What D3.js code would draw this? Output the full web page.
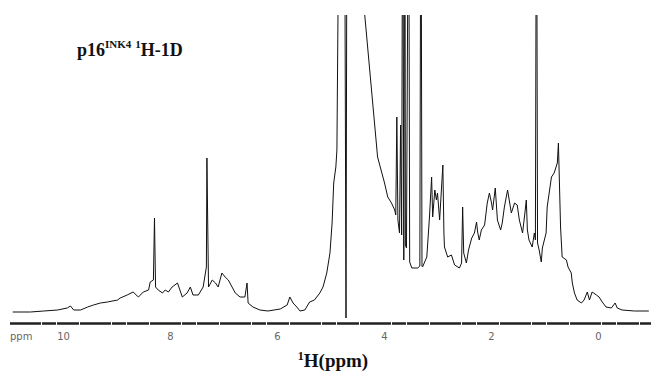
<!DOCTYPE html>
<html>
<head>
<meta charset="utf-8">
<script src="https://cdn.jsdelivr.net/npm/d3@7"></script>
<style>
  body { margin: 0; background: #fff; }
  svg { display: block; }
  .spectrum { fill: none; stroke: #111; stroke-width: 1; }
  .axis-x .domain { stroke: #222; stroke-width: 2.6; stroke-dasharray: 31,1,14,1,22,1; }
  .axis-x text { font-family: "DejaVu Sans", sans-serif; font-size: 10px; fill: #666; }
  .title, .xlabel { font-family: "Liberation Serif", "Times New Roman", serif; font-weight: bold; fill: #111; }
</style>
</head>
<body>
<div id="chart"></div>
<script>
// chemical shift (ppm), left to right
const ppm = [
  10.94, 10.61, 10.36, 10.10, 9.92, 9.86, 9.80, 9.67, 9.54, 9.43, 9.30, 9.17, 8.98, 8.93,
  8.80, 8.69, 8.59, 8.50, 8.40, 8.37, 8.31, 8.29, 8.27, 8.22, 8.14, 8.09, 8.03, 7.96,
  7.86, 7.77, 7.68, 7.62, 7.57, 7.47, 7.38, 7.32, 7.31, 7.28, 7.21, 7.15, 7.10, 7.03,
  6.97, 6.91, 6.84, 6.78, 6.69, 6.60, 6.56, 6.54, 6.45, 6.32, 6.17, 5.94, 5.81, 5.76,
  5.70, 5.63, 5.57, 5.48, 5.39, 5.30, 5.20, 5.14, 5.07, 5.01, 4.97, 4.94, 4.90, 4.88,
  4.83, 4.74, 4.71, 4.69, 4.45, 4.36, 4.12, 4.04, 3.99, 3.93, 3.86, 3.80, 3.78, 3.76,
  3.74, 3.71, 3.69, 3.67, 3.65, 3.63, 3.61, 3.60, 3.58, 3.54, 3.52, 3.48, 3.37, 3.33,
  3.31, 3.29, 3.28, 3.20, 3.15, 3.11, 3.09, 3.05, 3.02, 3.00, 2.96, 2.90, 2.88, 2.87,
  2.81, 2.74, 2.68, 2.59, 2.55, 2.53, 2.51, 2.46, 2.42, 2.36, 2.31, 2.27, 2.25, 2.22,
  2.18, 2.12, 2.07, 2.03, 1.99, 1.97, 1.92, 1.88, 1.82, 1.79, 1.75, 1.69, 1.62, 1.56,
  1.51, 1.47, 1.41, 1.36, 1.34, 1.32, 1.29, 1.23, 1.19, 1.17, 1.15, 1.13, 1.10, 1.06,
  1.04, 0.97, 0.95, 0.87, 0.82, 0.76, 0.74, 0.70, 0.67, 0.59, 0.56, 0.50, 0.48, 0.44,
  0.39, 0.31, 0.26, 0.20, 0.16, 0.11, 0.03, -0.02, -0.08, -0.15, -0.25, -0.32, -0.36,
  -0.45, -0.68, -0.95
];

// intensity (arbitrary units, plot top = 297); off-scale peaks are clipped
const intensity = [
  0, 0, 1, 2, 4, 6, 2, 2, 5, 7, 9, 10, 12, 14,
  17, 20, 15, 20, 22, 30, 32, 94, 25, 22, 19, 22, 20, 25,
  29, 15, 19, 25, 17, 17, 25, 45, 154, 25, 32, 29, 25, 39,
  35, 32, 25, 19, 15, 15, 29, 9, 5, 2, 1, 3, 7, 15,
  9, 5, 1, 2, 10, 12, 19, 25, 39, 59, 89, 129, 145, 162,
  500, 500, -6, 500, 500, 297, 155, 139, 129, 115, 109, 102, 97, 195,
  92, 79, 187, 77, 500, 52, 500, 67, 64, 500, 50, 44, 44, 46,
  500, 46, 45, 55, 95, 135, 95, 122, 112, 119, 92, 147, 79, 65,
  55, 57, 47, 44, 49, 105, 59, 49, 62, 74, 79, 90, 80, 72,
  82, 87, 109, 119, 109, 102, 124, 92, 82, 89, 105, 122, 99, 109,
  107, 92, 79, 102, 112, 82, 72, 65, 79, 72, 500, 69, 62, 50,
  64, 79, 105, 135, 139, 149, 169, 85, 55, 52, 45, 39, 29, 19,
  12, 9, 12, 20, 12, 20, 17, 15, 10, 5, 4, 9, 4,
  2, 1, 1
];

const tickValues = [10, 8, 6, 4, 2, 0];

const width = 651, height = 376;
const axisY = 323;

const svg = d3.select('#chart').append('svg')
  .attr('width', width)
  .attr('height', height);

const x = d3.scaleLinear().domain([11, -1]).range([9.5, 651.5]);
const y = d3.scaleLinear().domain([0, 297]).range([312, 15]);

svg.append('clipPath').attr('id', 'plot-clip')
  .append('rect')
  .attr('x', 0).attr('y', y(297))
  .attr('width', width).attr('height', axisY - y(297));

const points = ppm.map((p, i) => [p, intensity[i]]);

const line = d3.line()
  .x(d => x(d[0]))
  .y(d => y(d[1]));

svg.append('path')
  .datum(points)
  .attr('class', 'spectrum')
  .attr('clip-path', 'url(#plot-clip)')
  .attr('d', line);

const xAxis = svg.append('g')
  .attr('class', 'axis-x')
  .attr('transform', `translate(0, ${axisY})`)
  .call(d3.axisBottom(x)
    .tickValues(tickValues)
    .tickSize(0)
    .tickPadding(10)
    .tickFormat(d3.format('d')));

xAxis.append('text')
  .attr('x', 10)
  .attr('y', 10)
  .attr('dy', '0.71em')
  .attr('text-anchor', 'start')
  .text('ppm');

// title
const title = svg.append('text')
  .attr('class', 'title')
  .attr('x', 77)
  .attr('y', 56)
  .attr('font-size', 18);
title.append('tspan').text('p16');
title.append('tspan').attr('font-size', 11).attr('dy', -8).text('INK4');
title.append('tspan').attr('font-size', 11).attr('dx', 4).text('1');
title.append('tspan').attr('dy', 8).text('H-1D');

// x label
const xlabel = svg.append('text')
  .attr('class', 'xlabel')
  .attr('x', 333)
  .attr('y', 367)
  .attr('text-anchor', 'middle')
  .attr('font-size', 19);
xlabel.append('tspan').attr('font-size', 12).attr('dy', -7).text('1');
xlabel.append('tspan').attr('dy', 7).text('H(ppm)');
</script>
</body>
</html>
